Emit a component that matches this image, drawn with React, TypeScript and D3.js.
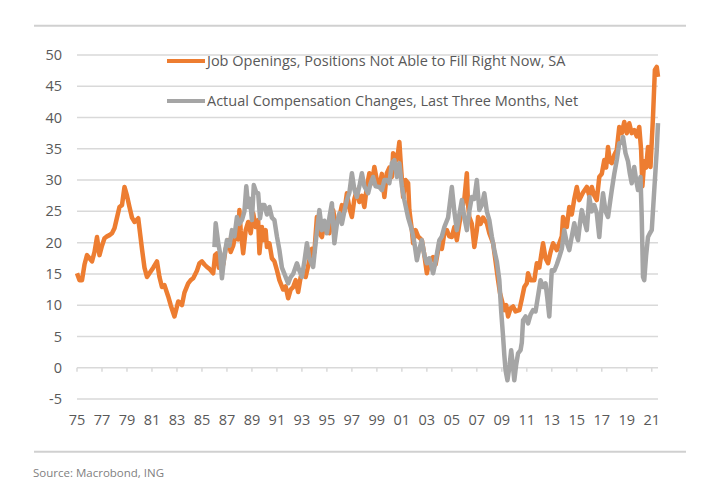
import React from "react";
import * as d3 from "d3";

const yTicks = [-5, 0, 5, 10, 15, 20, 25, 30, 35, 40, 45, 50];
const xTickYears = d3.range(1975, 2022, 2);
const xTickLabels = xTickYears.map((y) => String(y % 100).padStart(2, "0"));

const legendLabels = [
  "Job Openings, Positions Not Able to Fill Right Now, SA",
  "Actual Compensation Changes, Last Three Months, Net",
];

// Job openings (orange) – decimal year / value
const jobYears = [
  1975.0, 1975.2, 1975.4, 1975.6, 1975.8, 1976.0, 1976.2, 1976.4, 1976.6, 1976.8, 1977.0, 1977.2,
  1977.4, 1977.6, 1977.8, 1978.0, 1978.2, 1978.4, 1978.6, 1978.8, 1979.0, 1979.2, 1979.4, 1979.6,
  1979.9, 1980.2, 1980.4, 1980.6, 1980.8, 1981.1, 1981.4, 1981.6, 1981.8, 1982.0, 1982.3, 1982.5,
  1982.8, 1983.1, 1983.4, 1983.6, 1983.9, 1984.1, 1984.3, 1984.6, 1984.8, 1985.0, 1985.2, 1985.4,
  1985.6, 1985.9, 1986.05, 1986.2, 1986.35, 1986.5, 1986.7, 1986.9, 1987.1, 1987.3, 1987.5, 1987.7,
  1987.9, 1988.0, 1988.1, 1988.3, 1988.5, 1988.7, 1988.9, 1989.1, 1989.3, 1989.5, 1989.6, 1989.8,
  1989.9, 1990.1, 1990.2, 1990.4, 1990.6, 1990.8, 1991.0, 1991.2, 1991.5, 1991.7, 1991.9, 1992.1,
  1992.3, 1992.5, 1992.7, 1992.9, 1993.1, 1993.3, 1993.6, 1993.8, 1994.0, 1994.2, 1994.4, 1994.6,
  1994.8, 1995.0, 1995.2, 1995.5, 1995.7, 1996.0, 1996.2, 1996.4, 1996.6, 1996.8, 1997.0, 1997.2,
  1997.4, 1997.6, 1997.8, 1998.0, 1998.2, 1998.4, 1998.6, 1998.8, 1999.0, 1999.2, 1999.4, 1999.6,
  1999.8, 2000.0, 2000.2, 2000.3, 2000.5, 2000.7, 2000.8, 2000.9, 2001.1, 2001.3, 2001.5, 2001.6,
  2001.8, 2001.9, 2002.1, 2002.3, 2002.6, 2002.8, 2003.0, 2003.2, 2003.5, 2003.7, 2004.0, 2004.2,
  2004.4, 2004.6, 2004.8, 2005.0, 2005.2, 2005.4, 2005.6, 2005.8, 2006.0, 2006.2, 2006.3, 2006.4,
  2006.6, 2006.8, 2007.0, 2007.1, 2007.3, 2007.5, 2007.8, 2008.0, 2008.3, 2008.5, 2008.7, 2008.85,
  2009.0, 2009.2, 2009.35, 2009.5, 2009.7, 2009.9, 2010.1, 2010.4, 2010.6, 2010.8, 2011.0, 2011.1,
  2011.3, 2011.6, 2011.8, 2012.0, 2012.3, 2012.5, 2012.7, 2012.9, 2013.1, 2013.4, 2013.6, 2013.8,
  2013.9, 2014.2, 2014.4, 2014.6, 2014.8, 2015.0, 2015.2, 2015.5, 2015.8, 2016.0, 2016.2, 2016.4,
  2016.6, 2016.8, 2017.0, 2017.2, 2017.35, 2017.5, 2017.65, 2017.8, 2018.0, 2018.2, 2018.4, 2018.6,
  2018.8, 2019.0, 2019.2, 2019.4, 2019.6, 2019.8, 2020.0, 2020.15, 2020.25, 2020.4, 2020.55, 2020.7,
  2020.9, 2021.1, 2021.25, 2021.4, 2021.5,
];
const jobValues = [
  15.1, 14.0, 14.0, 16.5, 18.0, 17.5, 17.0, 18.5, 20.9, 18.0, 19.5, 20.7,
  21.0, 21.2, 21.5, 22.3, 24.0, 25.7, 26.0, 28.9, 27.5, 25.7, 24.0, 23.3,
  23.9, 19.0, 16.0, 14.5, 15.1, 16.0, 17.0, 14.5, 12.9, 13.2, 11.4, 10.0,
  8.2, 10.6, 10.0, 12.0, 13.5, 14.0, 14.3, 15.5, 16.7, 17.0, 16.5, 16.1,
  15.8, 15.1, 18.0, 18.3, 16.0, 17.5, 16.5, 19.0, 20.4, 18.5, 19.5, 21.5,
  20.5, 25.2, 22.0, 18.3, 22.0, 23.3, 21.5, 24.7, 22.5, 23.6, 18.3, 22.5,
  20.4, 22.0, 19.3, 19.9, 17.5, 17.0, 15.6, 14.0, 12.5, 13.0, 11.1, 12.5,
  12.9, 14.0, 12.1, 14.5, 15.6, 14.5, 17.2, 19.0, 18.5, 24.1, 21.5, 20.9,
  23.0, 23.1, 21.5, 25.2, 23.0, 24.1, 26.0, 25.0, 27.9, 25.5, 24.1, 27.0,
  28.4, 26.5, 27.5, 25.7, 29.0, 31.1, 29.5, 32.1, 30.0, 28.9, 31.0, 27.3,
  31.1, 32.0, 30.5, 34.3, 33.0, 34.5, 36.1, 33.0, 27.3, 30.0, 29.5, 25.2,
  22.0, 19.9, 22.0, 21.0, 20.4, 18.0, 15.1, 17.0, 17.7, 16.5, 19.9, 19.0,
  21.5, 22.0, 21.0, 20.9, 22.5, 20.4, 23.0, 25.2, 27.0, 31.1, 26.0, 24.1,
  23.0, 19.3, 22.0, 24.1, 23.0, 24.0, 23.1, 21.5, 19.9, 17.0, 14.0, 12.0,
  10.8, 9.2, 10.0, 8.2, 9.5, 9.8, 9.0, 9.2, 11.0, 12.9, 13.5, 15.1,
  14.0, 14.0, 16.7, 16.0, 19.9, 17.5, 16.7, 18.5, 19.9, 18.8, 19.9, 21.0,
  24.1, 22.5, 25.7, 24.5, 27.0, 28.9, 26.8, 28.0, 28.9, 27.5, 28.9, 27.5,
  26.8, 30.5, 31.0, 33.2, 32.0, 35.3, 33.0, 32.7, 34.0, 34.8, 38.5, 37.5,
  39.3, 37.5, 39.1, 37.5, 38.0, 37.0, 38.5, 34.8, 29.0, 33.0, 32.0, 35.3,
  32.1, 40.1, 47.6, 48.1, 46.5,
];

// Compensation changes (grey) – decimal year / value
const compYears = [
  1986.0, 1986.1, 1986.3, 1986.45, 1986.6, 1986.8, 1987.0, 1987.2, 1987.4, 1987.6, 1987.8, 1988.0,
  1988.2, 1988.4, 1988.55, 1988.7, 1988.85, 1989.0, 1989.15, 1989.35, 1989.5, 1989.65, 1989.8, 1990.0,
  1990.2, 1990.4, 1990.6, 1990.8, 1991.0, 1991.2, 1991.4, 1991.6, 1991.9, 1992.1, 1992.3, 1992.6,
  1992.8, 1993.0, 1993.2, 1993.4, 1993.6, 1993.9, 1994.1, 1994.4, 1994.6, 1994.8, 1995.0, 1995.2,
  1995.4, 1995.6, 1995.8, 1996.0, 1996.2, 1996.4, 1996.6, 1996.8, 1997.0, 1997.2, 1997.4, 1997.6,
  1997.8, 1998.0, 1998.3, 1998.5, 1998.7, 1998.9, 1999.2, 1999.4, 1999.6, 1999.8, 2000.0, 2000.2,
  2000.4, 2000.6, 2000.8, 2001.0, 2001.2, 2001.5, 2001.8, 2002.0, 2002.2, 2002.4, 2002.6, 2002.8,
  2003.0, 2003.2, 2003.5, 2003.7, 2004.0, 2004.2, 2004.4, 2004.7, 2005.0, 2005.2, 2005.4, 2005.6,
  2005.8, 2006.0, 2006.2, 2006.4, 2006.6, 2006.8, 2007.0, 2007.2, 2007.4, 2007.6, 2007.8, 2008.0,
  2008.2, 2008.4, 2008.6, 2008.8, 2008.95, 2009.1, 2009.2, 2009.3, 2009.45, 2009.6, 2009.75, 2009.85,
  2010.0, 2010.15, 2010.3, 2010.5, 2010.6, 2010.7, 2010.9, 2011.1, 2011.3, 2011.5, 2011.7, 2011.9,
  2012.1, 2012.3, 2012.5, 2012.65, 2012.8, 2012.9, 2013.0, 2013.2, 2013.4, 2013.6, 2013.8, 2014.0,
  2014.2, 2014.4, 2014.6, 2014.8, 2015.0, 2015.1, 2015.25, 2015.4, 2015.6, 2015.8, 2016.0, 2016.2,
  2016.4, 2016.6, 2016.8, 2017.0, 2017.1, 2017.3, 2017.5, 2017.7, 2017.8, 2018.0, 2018.2, 2018.4,
  2018.6, 2018.7, 2018.9, 2019.1, 2019.25, 2019.4, 2019.6, 2019.75, 2019.9, 2020.1, 2020.2, 2020.3,
  2020.4, 2020.55, 2020.7, 2020.85, 2021.0, 2021.1, 2021.25, 2021.4, 2021.5,
];
const compValues = [
  19.3, 23.1, 20.0, 18.3, 14.3, 18.0, 20.4, 19.5, 22.0, 21.0, 24.1, 23.0,
  23.6, 25.0, 29.0, 25.7, 27.0, 23.6, 29.2, 28.0, 27.9, 23.9, 26.0, 26.0,
  24.5, 25.7, 24.0, 23.6, 21.0, 18.8, 16.0, 15.0, 13.5, 14.5, 15.0, 16.7,
  15.5, 14.5, 17.0, 19.9, 17.5, 16.1, 20.0, 25.2, 22.0, 23.5, 21.5, 24.0,
  26.3, 19.9, 23.0, 24.7, 23.0, 25.0, 26.8, 28.0, 31.1, 28.5, 27.3, 29.0,
  31.1, 29.0, 27.9, 29.5, 30.5, 29.0, 28.9, 28.4, 30.0, 30.0, 29.5, 32.7,
  33.2, 30.5, 32.7, 29.0, 26.8, 24.0, 22.0, 20.0, 17.2, 19.0, 20.4, 18.0,
  16.7, 17.5, 15.1, 17.0, 20.4, 21.0, 22.5, 24.0, 28.9, 25.0, 22.0, 24.5,
  26.8, 24.0, 22.0, 25.0, 27.3, 27.0, 30.0, 25.2, 26.0, 27.9, 25.0, 23.6,
  21.0, 18.8, 17.0, 14.0, 9.0, 5.0, 2.0, -0.4, -2.0, 0.0, 2.8, 1.0,
  -2.0, 0.5, 2.3, 2.8, 4.0, 7.6, 8.2, 7.1, 8.5, 9.2, 9.0, 11.5,
  14.0, 12.9, 13.5, 11.0, 8.2, 12.0, 15.6, 15.5, 16.5, 17.7, 19.0, 22.0,
  20.0, 18.8, 21.0, 23.1, 21.0, 20.4, 23.0, 25.2, 23.5, 22.0, 27.3, 25.0,
  26.0, 24.7, 20.9, 26.0, 27.9, 25.0, 24.1, 27.0, 28.4, 31.0, 33.2, 35.9,
  36.0, 36.9, 34.3, 33.0, 31.0, 29.5, 32.1, 30.0, 28.4, 30.5, 24.0, 14.5,
  14.0, 18.0, 20.9, 21.5, 22.0, 25.2, 30.0, 34.8, 39.1,
];

const ORANGE = "#ED7D31";
const GREY = "#A5A5A5";
const TEXT = "#595959";
const GRID = "#D9D9D9";
const FONT = "'Open Sans', 'Liberation Sans', sans-serif";

export default function App() {
  const width = 703;
  const height = 486;
  const x = d3.scaleLinear().domain([1975, 2021.5]).range([77, 658]);
  const y = d3.scaleLinear().domain([-5, 50]).range([399, 55]);

  const line = d3
    .line<[number, number]>()
    .x((d) => x(d[0]))
    .y((d) => y(d[1]))
    .curve(d3.curveLinear);

  const jobData: [number, number][] = jobYears.map((t, i) => [t, jobValues[i]]);
  const compData: [number, number][] = compYears.map((t, i) => [t, compValues[i]]);

  return (
    <svg
      width={width}
      height={height}
      style={{ position: "absolute", left: 0, top: 0, background: "#fff" }}
      fontFamily={FONT}
    >
      <line x1={34} x2={686} y1={25.7} y2={25.7} stroke="#D0D0D0" strokeWidth={2} />
      <line x1={34} x2={686} y1={451.7} y2={451.7} stroke="#D0D0D0" strokeWidth={2} />

      {yTicks.map((t) => (
        <g key={t}>
          <line x1={77} x2={658} y1={y(t)} y2={y(t)} stroke={GRID} strokeWidth={1.5} />
          <text x={62} y={y(t)} dy="0.35em" textAnchor="end" fontSize={14.5} fill={TEXT}>
            {t}
          </text>
        </g>
      ))}

      {xTickYears.map((t, i) => (
        <g key={t}>
          <line x1={x(t)} x2={x(t)} y1={y(0)} y2={y(0) + 4} stroke={GRID} strokeWidth={1.5} />
          <text x={x(t)} y={425} textAnchor="middle" fontSize={14.5} fill={TEXT}>
            {xTickLabels[i]}
          </text>
        </g>
      ))}

      <path d={line(jobData) || ""} fill="none" stroke={ORANGE} strokeWidth={4.5} strokeLinejoin="round" />
      <path d={line(compData) || ""} fill="none" stroke={GREY} strokeWidth={4.5} strokeLinejoin="round" />

      {legendLabels.map((l, i) => (
        <g key={l}>
          <line
            x1={167}
            x2={205}
            y1={61 + i * 40}
            y2={61 + i * 40}
            stroke={i === 0 ? ORANGE : GREY}
            strokeWidth={4}
          />
          <text x={207} y={61 + i * 40} dy="0.35em" fontSize={14.5} fill={TEXT}>
            {l}
          </text>
        </g>
      ))}

      <text x={33} y={473} dy="0.35em" fontSize={11.5} fill="#7F7F7F">
        Source: Macrobond, ING
      </text>
    </svg>
  );
}
